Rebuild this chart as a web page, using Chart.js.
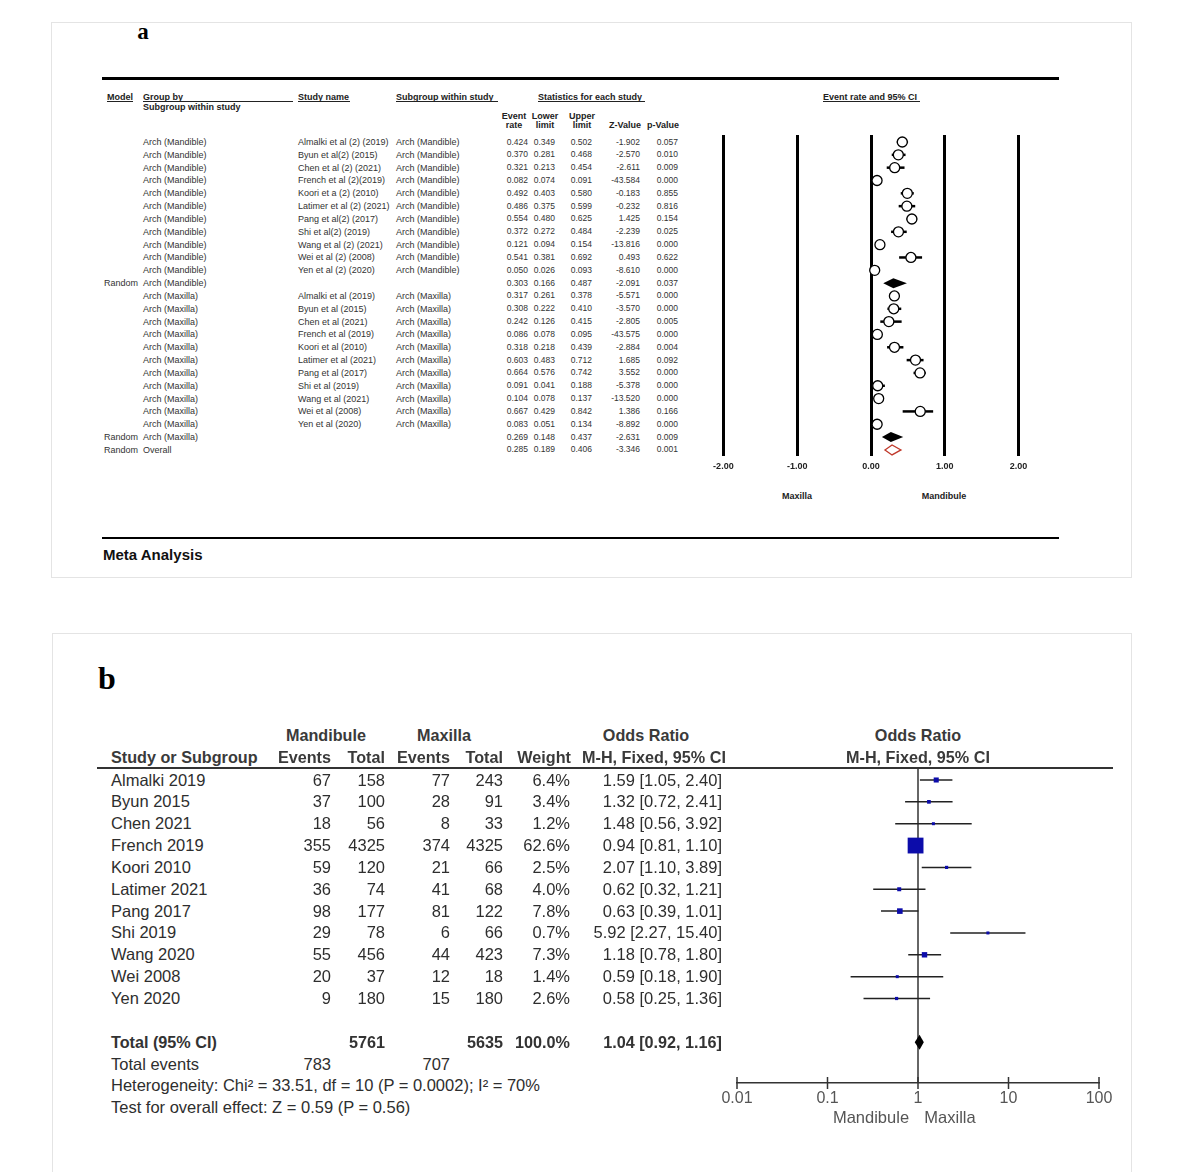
<!DOCTYPE html>
<html><head><meta charset="utf-8">
<script src="https://cdn.jsdelivr.net/npm/chart.js@4.4.0/dist/chart.umd.min.js"></script>
<style>
html,body{margin:0;padding:0;background:#fff;}
body{width:1180px;height:1172px;position:relative;overflow:hidden;font-family:"Liberation Sans",Arial,sans-serif;}
.t{position:absolute;white-space:nowrap;}
.ln{position:absolute;}
canvas{position:absolute;}
</style></head><body>
<div class="ln" style="left:51px;top:22px;width:1079px;height:554px;border:1px solid #e4e4e4"></div>
<div class="ln" style="left:52px;top:633px;width:1078px;height:560px;border:1px solid #e4e4e4"></div>
<canvas id="ca" width="350" height="345" style="left:696px;top:135px"></canvas>
<canvas id="cb" width="422" height="360" style="left:707px;top:768px"></canvas>
<script>
// ---------- Panel a data ----------
const aModel = ['','','','','','','','','','','','Random','','','','','','','','','','','','Random','Random'];
const aGroup = ['Arch (Mandible)','Arch (Mandible)','Arch (Mandible)','Arch (Mandible)','Arch (Mandible)','Arch (Mandible)','Arch (Mandible)','Arch (Mandible)','Arch (Mandible)','Arch (Mandible)','Arch (Mandible)','Arch (Mandible)',
  'Arch (Maxilla)','Arch (Maxilla)','Arch (Maxilla)','Arch (Maxilla)','Arch (Maxilla)','Arch (Maxilla)','Arch (Maxilla)','Arch (Maxilla)','Arch (Maxilla)','Arch (Maxilla)','Arch (Maxilla)','Arch (Maxilla)','Overall'];
const aStudy = ['Almalki et al (2) (2019)','Byun et al(2) (2015)','Chen et al (2) (2021)','French et al (2)(2019)','Koori et a (2) (2010)','Latimer et al (2) (2021)','Pang et al(2) (2017)','Shi et al(2) (2019)','Wang et al (2) (2021)','Wei et al (2) (2008)','Yen et al (2) (2020)','',
  'Almalki et al (2019)','Byun et al (2015)','Chen et al (2021)','French et al (2019)','Koori et al (2010)','Latimer et al (2021)','Pang et al (2017)','Shi et al (2019)','Wang et al (2021)','Wei et al (2008)','Yen et al (2020)','',''];
const aSub = ['Arch (Mandible)','Arch (Mandible)','Arch (Mandible)','Arch (Mandible)','Arch (Mandible)','Arch (Mandible)','Arch (Mandible)','Arch (Mandible)','Arch (Mandible)','Arch (Mandible)','Arch (Mandible)','',
  'Arch (Maxilla)','Arch (Maxilla)','Arch (Maxilla)','Arch (Maxilla)','Arch (Maxilla)','Arch (Maxilla)','Arch (Maxilla)','Arch (Maxilla)','Arch (Maxilla)','Arch (Maxilla)','Arch (Maxilla)','',''];
const aRate  = [0.424,0.370,0.321,0.082,0.492,0.486,0.554,0.372,0.121,0.541,0.050,0.303,0.317,0.308,0.242,0.086,0.318,0.603,0.664,0.091,0.104,0.667,0.083,0.269,0.285];
const aLower = [0.349,0.281,0.213,0.074,0.403,0.375,0.480,0.272,0.094,0.381,0.026,0.166,0.261,0.222,0.126,0.078,0.218,0.483,0.576,0.041,0.078,0.429,0.051,0.148,0.189];
const aUpper = [0.502,0.468,0.454,0.091,0.580,0.599,0.625,0.484,0.154,0.692,0.093,0.487,0.378,0.410,0.415,0.095,0.439,0.712,0.742,0.188,0.137,0.842,0.134,0.437,0.406];
const aZ     = [-1.902,-2.570,-2.611,-43.584,-0.183,-0.232,1.425,-2.239,-13.816,0.493,-8.610,-2.091,-5.571,-3.570,-2.805,-43.575,-2.884,1.685,3.552,-5.378,-13.520,1.386,-8.892,-2.631,-3.346];
const aP     = [0.057,0.010,0.009,0.000,0.855,0.816,0.154,0.025,0.000,0.622,0.000,0.037,0.000,0.000,0.005,0.000,0.004,0.092,0.000,0.000,0.000,0.166,0.000,0.009,0.001];
const aSummaryRows = [11,23,24];
const aTickVals = [-2,-1,0,1,2];
const aTickLabels = ['-2.00','-1.00','0.00','1.00','2.00'];
const aAxisLabels = ['Maxilla','Mandibule'];

// ---------- Panel b data ----------
const bStudy   = ['Almalki 2019','Byun 2015','Chen 2021','French 2019','Koori 2010','Latimer 2021','Pang 2017','Shi 2019','Wang 2020','Wei 2008','Yen 2020'];
const bMandEv  = [67,37,18,355,59,36,98,29,55,20,9];
const bMandTot = [158,100,56,4325,120,74,177,78,456,37,180];
const bMaxEv   = [77,28,8,374,21,41,81,6,44,12,15];
const bMaxTot  = [243,91,33,4325,66,68,122,66,423,18,180];
const bWeight  = [6.4,3.4,1.2,62.6,2.5,4.0,7.8,0.7,7.3,1.4,2.6];
const bOR      = [1.59,1.32,1.48,0.94,2.07,0.62,0.63,5.92,1.18,0.59,0.58];
const bLo      = [1.05,0.72,0.56,0.81,1.10,0.32,0.39,2.27,0.78,0.18,0.25];
const bHi      = [2.40,2.41,3.92,1.10,3.89,1.21,1.01,15.40,1.80,1.90,1.36];
const bTotal   = {mandTot:5761, maxTot:5635, weight:100.0, or:1.04, lo:0.92, hi:1.16, mandEv:783, maxEv:707};
const bTickVals = [0.01,0.1,1,10,100];
const bTickLabels = ['0.01','0.1','1','10','100'];
const bAxisLabels = ['Mandibule','Maxilla'];

// ---------- helpers ----------
function T(x,y,s,o){
  o=o||{};
  const d=document.createElement('div');
  d.className='t'; d.textContent=s;
  const size=o.size||9, lh=Math.round(size*1.3);
  d.style.fontSize=size+'px'; d.style.lineHeight=lh+'px';
  d.style.top=(y-lh/2)+'px';
  if(o.bold) d.style.fontWeight='bold';
  if(o.ls) d.style.letterSpacing=o.ls+'px';
  d.style.color=o.color||'#222';
  if(o.font) d.style.fontFamily=o.font;
  if(o.align==='right'){d.style.left=(x-400)+'px';d.style.width='400px';d.style.textAlign='right';}
  else if(o.align==='center'){d.style.left=(x-300)+'px';d.style.width='600px';d.style.textAlign='center';}
  else d.style.left=x+'px';
  document.body.appendChild(d);
}
function L(x1,x2,y,th,color){
  const d=document.createElement('div'); d.className='ln';
  d.style.left=x1+'px'; d.style.width=(x2-x1)+'px';
  d.style.top=(y-th/2)+'px'; d.style.height=th+'px'; d.style.background=color||'#000';
  document.body.appendChild(d);
}
const f3=v=>v.toFixed(3);
const R=o=>Object.assign({align:'right'},o);
const C=o=>Object.assign({align:'center'},o);

// ---------- Panel a text ----------
T(143,32,'a',{size:23,bold:true,font:'"Liberation Serif",serif',align:'center',color:'#000'});
L(102,1059,78,3,'#000');
const hA={size:9,bold:true,color:'#222'};
T(107,97,'Model',hA); L(107,133,101.5,1,'#222');
T(143,97,'Group by',hA); L(143,293,101.5,1,'#222');
T(143,106.5,'Subgroup within study',hA);
T(298,97,'Study name',hA); L(298,350,101.5,1,'#222');
T(396,97,'Subgroup within study',hA); L(396,498,101.5,1,'#222');
T(538,97,'Statistics for each study',hA); L(538,645,101.5,1,'#222');
T(823,97,'Event rate and 95% CI',hA); L(823,920,101.5,1,'#222');
T(514,116,'Event',C(hA)); T(514,125,'rate',C(hA));
T(545,116,'Lower',C(hA)); T(545,125,'limit',C(hA));
T(582,116,'Upper',C(hA)); T(582,125,'limit',C(hA));
T(641,125,'Z-Value',R(hA)); T(679,125,'p-Value',R(hA));
const aRow0=142, aStep=12.83;
for(let i=0;i<aRate.length;i++){
  const y=aRow0+i*aStep, o={size:9,color:'#333'}, n={size:8.5,color:'#333'};
  if(aModel[i]) T(104,y,aModel[i],o);
  T(143,y,aGroup[i],o);
  if(aStudy[i]) T(298,y,aStudy[i],o);
  if(aSub[i]) T(396,y,aSub[i],o);
  T(528,y,f3(aRate[i]),R(n));
  T(555,y,f3(aLower[i]),R(n));
  T(592,y,f3(aUpper[i]),R(n));
  T(640,y,f3(aZ[i]),R(n));
  T(678,y,f3(aP[i]),R(n));
}
T(797,496,aAxisLabels[0],{size:9,bold:true,align:'center',color:'#222'});
T(944,496,aAxisLabels[1],{size:9,bold:true,align:'center',color:'#222'});
L(102,1059,538,2.5,'#000');
T(103,555,'Meta Analysis',{size:15,bold:true,color:'#111'});

// ---------- Panel b text ----------
T(107,678,'b',{size:32,bold:true,font:'"Liberation Serif",serif',align:'center',color:'#000'});
const hB={size:16.2,bold:true,color:'#3a3a3a'};
T(326,735,'Mandibule',C(hB));
T(444,735,'Maxilla',C(hB));
T(646,735,'Odds Ratio',C(hB));
T(918,735,'Odds Ratio',C(hB));
T(111,757,'Study or Subgroup',hB);
T(331,757,'Events',R(hB));
T(385,757,'Total',R(hB));
T(450,757,'Events',R(hB));
T(503,757,'Total',R(hB));
T(571,757,'Weight',R(hB));
T(654,757,'M-H, Fixed, 95% CI',C(hB));
T(918,757,'M-H, Fixed, 95% CI',C(hB));
L(97,1113,768,1.5,'#333');
const bRow0=780, bStep=21.85;
const oB={size:16.5,color:'#2e2e2e'};
for(let i=0;i<bStudy.length;i++){
  const y=bRow0+i*bStep;
  T(111,y,bStudy[i],oB);
  T(331,y,String(bMandEv[i]),R(oB));
  T(385,y,String(bMandTot[i]),R(oB));
  T(450,y,String(bMaxEv[i]),R(oB));
  T(503,y,String(bMaxTot[i]),R(oB));
  T(570,y,bWeight[i].toFixed(1)+'%',R(oB));
  T(722,y,bOR[i].toFixed(2)+' ['+bLo[i].toFixed(2)+', '+bHi[i].toFixed(2)+']',R(oB));
}
const yTot=bRow0+12*bStep;
const oBb=Object.assign({},oB,{bold:true,color:'#333',size:16.2});
T(111,yTot,'Total (95% CI)',oBb);
T(385,yTot,String(bTotal.mandTot),R(oBb));
T(503,yTot,String(bTotal.maxTot),R(oBb));
T(570,yTot,bTotal.weight.toFixed(1)+'%',R(oBb));
T(722,yTot,bTotal.or.toFixed(2)+' ['+bTotal.lo.toFixed(2)+', '+bTotal.hi.toFixed(2)+']',R(oBb));
T(111,bRow0+13*bStep,'Total events',oB);
T(331,bRow0+13*bStep,String(bTotal.mandEv),R(oB));
T(450,bRow0+13*bStep,String(bTotal.maxEv),R(oB));
T(111,bRow0+14*bStep,'Heterogeneity: Chi\u00b2 = 33.51, df = 10 (P = 0.0002); I\u00b2 = 70%',oB);
T(111,bRow0+15*bStep,'Test for overall effect: Z = 0.59 (P = 0.56)',oB);
T(871,1117,bAxisLabels[0],{size:16.5,align:'center',color:'#555'});
T(950,1117,bAxisLabels[1],{size:16.5,align:'center',color:'#555'});

// ---------- Chart a ----------
const aStudyRows=[]; for(let i=0;i<aRate.length;i++) if(aSummaryRows.indexOf(i)<0) aStudyRows.push(i);
const aYMin=-(aRow0-135)/aStep, aYMax=(456-aRow0)/aStep;
const aPlugin={id:'aForest',
  beforeDatasetsDraw(c){
    const x=c.scales.x,y=c.scales.y,ctx=c.ctx;
    ctx.save(); ctx.strokeStyle='#000'; ctx.lineWidth=2.5;
    aStudyRows.forEach(i=>{const py=y.getPixelForValue(i);
      ctx.beginPath(); ctx.moveTo(x.getPixelForValue(aLower[i]),py); ctx.lineTo(x.getPixelForValue(aUpper[i]),py); ctx.stroke();});
    ctx.restore();
  },
  afterDatasetsDraw(c){
    const x=c.scales.x,y=c.scales.y,ctx=c.ctx;
    ctx.save();
    aSummaryRows.forEach(i=>{
      const py=y.getPixelForValue(i), l=x.getPixelForValue(aLower[i]), m=x.getPixelForValue(aRate[i]), r=x.getPixelForValue(aUpper[i]), h=5;
      ctx.beginPath(); ctx.moveTo(l,py); ctx.lineTo(m,py-h); ctx.lineTo(r,py); ctx.lineTo(m,py+h); ctx.closePath();
      if(i===24){ctx.fillStyle='#fff';ctx.fill();ctx.strokeStyle='#c0392b';ctx.lineWidth=1.3;ctx.stroke();}
      else {ctx.fillStyle='#000';ctx.fill();}
    });
    ctx.restore();
  }};
new Chart(document.getElementById('ca'),{
  type:'scatter',
  data:{datasets:[{data:aStudyRows.map(i=>({x:aRate[i],y:i})),pointStyle:'circle',pointRadius:5,
    pointBackgroundColor:'#fff',pointBorderColor:'#000',pointBorderWidth:1.3,clip:false}]},
  options:{responsive:false,animation:false,events:[],devicePixelRatio:1,
    layout:{autoPadding:false,padding:{left:20,right:20,top:0,bottom:0}},
    plugins:{legend:{display:false},tooltip:{enabled:false},title:{display:false}},
    scales:{
      x:{type:'linear',min:-2.1,max:2.1,bounds:'data',
        afterBuildTicks:s=>{s.ticks=aTickVals.map(v=>({value:v})); s.min=-2.1; s.max=2.1;},
        afterFit:s=>{s.height=24;},
        grid:{color:'#000',lineWidth:3,drawTicks:false},border:{display:false},
        ticks:{padding:5,color:'#222',autoSkip:false,maxRotation:0,font:{size:9,weight:'bold',family:'Liberation Sans'},
          callback:(v,i)=>aTickLabels[i]}},
      y:{display:false,min:aYMin,max:aYMax,bounds:'data',reverse:true,
        afterBuildTicks:s=>{s.min=aYMin; s.max=aYMax;}}
    }},
  plugins:[aPlugin]
});

// ---------- Chart b ----------
const bYMin=-(bRow0-768)/bStep, bYMax=(1083-bRow0)/bStep;
const bPlugin={id:'bForest',
  beforeDatasetsDraw(c){
    const x=c.scales.x,y=c.scales.y,ctx=c.ctx,a=c.chartArea;
    ctx.save(); ctx.strokeStyle='#333'; ctx.lineWidth=1.5;
    const x1=x.getPixelForValue(1);
    ctx.beginPath(); ctx.moveTo(x1,a.top); ctx.lineTo(x1,a.bottom); ctx.stroke();
    bTickVals.forEach(v=>{const px=x.getPixelForValue(v);
      ctx.beginPath(); ctx.moveTo(px,a.bottom-6); ctx.lineTo(px,a.bottom+6); ctx.stroke();});
    ctx.strokeStyle='#222';
    bOR.forEach((o,i)=>{const py=y.getPixelForValue(i);
      ctx.beginPath(); ctx.moveTo(x.getPixelForValue(bLo[i]),py); ctx.lineTo(x.getPixelForValue(bHi[i]),py); ctx.stroke();});
    ctx.restore();
  },
  afterDatasetsDraw(c){
    const x=c.scales.x,y=c.scales.y,ctx=c.ctx;
    const py=y.getPixelForValue(12), l=x.getPixelForValue(bTotal.lo), m=x.getPixelForValue(bTotal.or), r=x.getPixelForValue(bTotal.hi), h=7.5;
    ctx.save(); ctx.beginPath(); ctx.moveTo(l,py); ctx.lineTo(m,py-h); ctx.lineTo(r,py); ctx.lineTo(m,py+h); ctx.closePath();
    ctx.fillStyle='#000'; ctx.fill(); ctx.restore();
  }};
new Chart(document.getElementById('cb'),{
  type:'scatter',
  data:{datasets:[{data:bOR.map((v,i)=>({x:v,y:i})),pointStyle:'rect',
    pointRadius:bWeight.map(w=>Math.max(3,2*Math.sqrt(w))/Math.SQRT2),
    pointBackgroundColor:'#0c0caa',pointBorderColor:'#0c0caa',pointBorderWidth:0,clip:false}]},
  options:{responsive:false,animation:false,events:[],devicePixelRatio:1,
    layout:{autoPadding:false,padding:{left:30,right:30,top:0,bottom:0}},
    plugins:{legend:{display:false},tooltip:{enabled:false},title:{display:false}},
    scales:{
      x:{type:'logarithmic',min:0.01,max:100,
        afterBuildTicks:s=>{s.ticks=bTickVals.map(v=>({value:v})); s.min=0.01; s.max=100;},
        afterFit:s=>{s.height=45;},
        grid:{display:false,drawTicks:false},border:{display:true,color:'#333',width:1.5},
        ticks:{padding:6,color:'#555',autoSkip:false,maxRotation:0,font:{size:16,family:'Liberation Sans'},
          callback:(v,i)=>bTickLabels[i]}},
      y:{display:false,min:bYMin,max:bYMax,bounds:'data',reverse:true,
        afterBuildTicks:s=>{s.min=bYMin; s.max=bYMax;}}
    }},
  plugins:[bPlugin]
});
</script>
</body></html>
